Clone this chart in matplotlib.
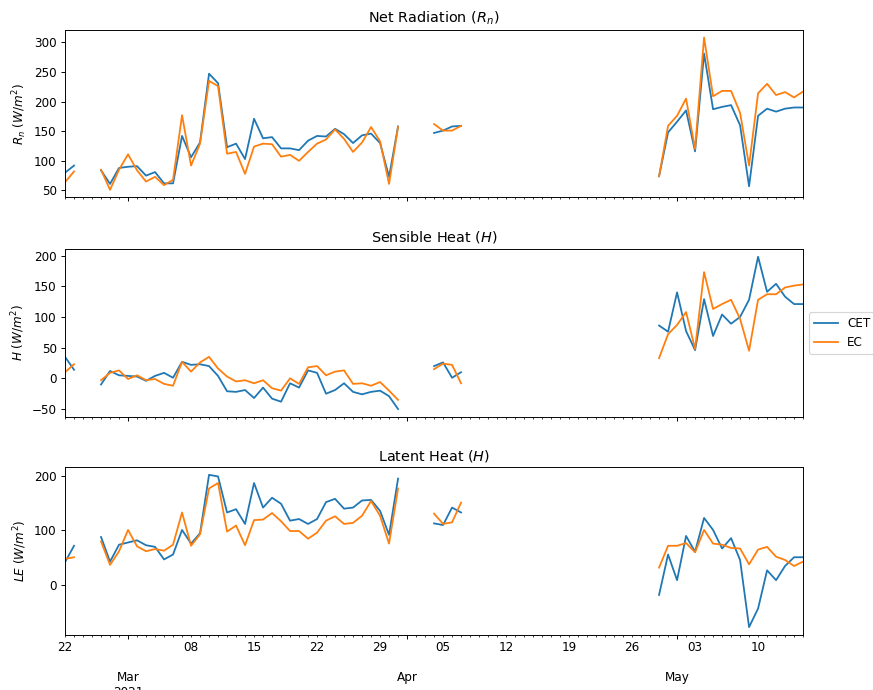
import numpy as np
import pandas as pd
import matplotlib
matplotlib.use("Agg")
import matplotlib.pyplot as plt
import matplotlib.dates as mdates
from matplotlib.ticker import FuncFormatter, MultipleLocator

nan = np.nan

# daily means, 2021-02-22 .. 2021-05-15 (gaps = missing days)
dates = pd.date_range("2021-02-22", "2021-05-15", freq="D")

rn_cet = ([80, 92, nan, nan, 84, 61, 88, 90, 91, 75, 81, 62, 62, 142, 106, 131,
           247, 231, 123, 129, 103, 171, 138, 140, 121, 121, 118, 134, 142, 141,
           154, 145, 130, 143, 146, 130, 73, 158, nan, nan, nan, 147, 151, 158, 159]
          + [nan] * 21
          + [74, 148, 166, 185, 116, 281, 187, 191, 194, 160, 57, 176, 188, 183,
             188, 190, 190])
rn_ec = ([64, 82, nan, nan, 85, 51, 85, 111, 84, 65, 73, 59, 68, 177, 92, 129,
          235, 226, 112, 115, 78, 124, 129, 128, 107, 110, 100, 115, 129, 136,
          153, 137, 115, 131, 157, 133, 61, 157, nan, nan, nan, 162, 151, 151, 159]
         + [nan] * 21
         + [74, 159, 176, 205, 120, 308, 209, 218, 218, 181, 92, 214, 230, 211,
            216, 207, 217])

h_cet = ([35, 14, nan, nan, -10, 12, 5, 4, 3, -4, 4, 9, 1, 27, 22, 23, 20, 4,
          -21, -22, -19, -32, -15, -33, -38, -8, -15, 13, 9, -25, -19, -8, -22,
          -26, -22, -20, -29, -50, nan, nan, nan, 20, 26, 1, 10]
         + [nan] * 21
         + [86, 76, 140, 77, 46, 129, 69, 104, 89, 100, 128, 198, 141, 154, 133,
            121, 121])
h_ec = ([10, 23, nan, nan, -3, 9, 13, -1, 5, -3, -1, -9, -12, 27, 11, 26, 35, 16,
         3, -5, -3, -8, -3, -16, -20, 0, -9, 18, 20, 5, 11, 13, -9, -8, -12, -6,
         -20, -35, nan, nan, nan, 15, 24, 22, -8]
        + [nan] * 21
        + [33, 72, 87, 108, 48, 173, 113, 121, 128, 97, 45, 128, 137, 137, 148,
           151, 153])

le_cet = ([42, 72, nan, nan, 88, 43, 74, 78, 82, 73, 70, 47, 56, 101, 76, 95,
           202, 199, 133, 139, 112, 187, 142, 160, 149, 118, 121, 112, 121, 152,
           158, 140, 142, 155, 156, 136, 92, 195, nan, nan, nan, 113, 110, 142, 133]
          + [nan] * 21
          + [-18, 56, 9, 90, 61, 123, 101, 67, 86, 46, -77, -43, 27, 9, 35, 51, 51])
le_ec = ([48, 51, nan, nan, 80, 37, 62, 101, 71, 62, 66, 63, 74, 133, 72, 93,
          177, 187, 98, 109, 73, 119, 120, 132, 117, 99, 99, 85, 96, 118, 126,
          112, 114, 127, 154, 127, 76, 177, nan, nan, nan, 131, 112, 115, 151]
         + [nan] * 21
         + [32, 72, 72, 77, 60, 101, 76, 74, 68, 67, 38, 65, 70, 52, 46, 35, 43])

panels = [
    ("Net Radiation ($R_n$)", r"$R_n\ (W/m^2)$", rn_cet, rn_ec, 50),
    ("Sensible Heat ($H$)", r"$H\ (W/m^2)$", h_cet, h_ec, 50),
    ("Latent Heat ($H$)", r"$LE\ (W/m^2)$", le_cet, le_ec, 100),
]

dpi = 86
fig = plt.figure(figsize=(873 / dpi, 690 / dpi), dpi=dpi)

left, width, height = 0.0745, 0.8454, 0.2428
bottoms = [0.7138, 0.3961, 0.0801]


def major_fmt(x, pos):
    # month names on a second row, year under the first one
    d = mdates.num2date(x)
    label = d.strftime("%b")
    if pos == 0:
        label += d.strftime("\n%Y")
    return label


def minor_fmt(x, pos):
    # day number on Mondays only
    d = mdates.num2date(x)
    if d.weekday() == 0:
        return d.strftime("%d")
    return ""


axes = []
for i, (title, ylabel, cet, ec, step) in enumerate(panels):
    ax = fig.add_axes([left, bottoms[i], width, height],
                      sharex=axes[0] if axes else None)
    ax.plot(dates, cet, color="#1f77b4", label="CET")
    ax.plot(dates, ec, color="#ff7f0e", label="EC")
    ax.set_title(title)
    ax.set_ylabel(ylabel)
    ax.yaxis.set_major_locator(MultipleLocator(step))
    axes.append(ax)

ax = axes[-1]
ax.set_xlim(dates[0], dates[-1])
ax.xaxis.set_major_locator(mdates.MonthLocator())
ax.xaxis.set_minor_locator(mdates.DayLocator())
ax.xaxis.set_major_formatter(FuncFormatter(major_fmt))
ax.xaxis.set_minor_formatter(FuncFormatter(minor_fmt))
ax.tick_params(axis="x", which="major", pad=26.5)
for a in axes[:-1]:
    a.tick_params(axis="x", which="both", labelbottom=False)

axes[1].legend(loc="center left", bbox_to_anchor=(1, 0.5))

fig.savefig("out.png", dpi=dpi)
